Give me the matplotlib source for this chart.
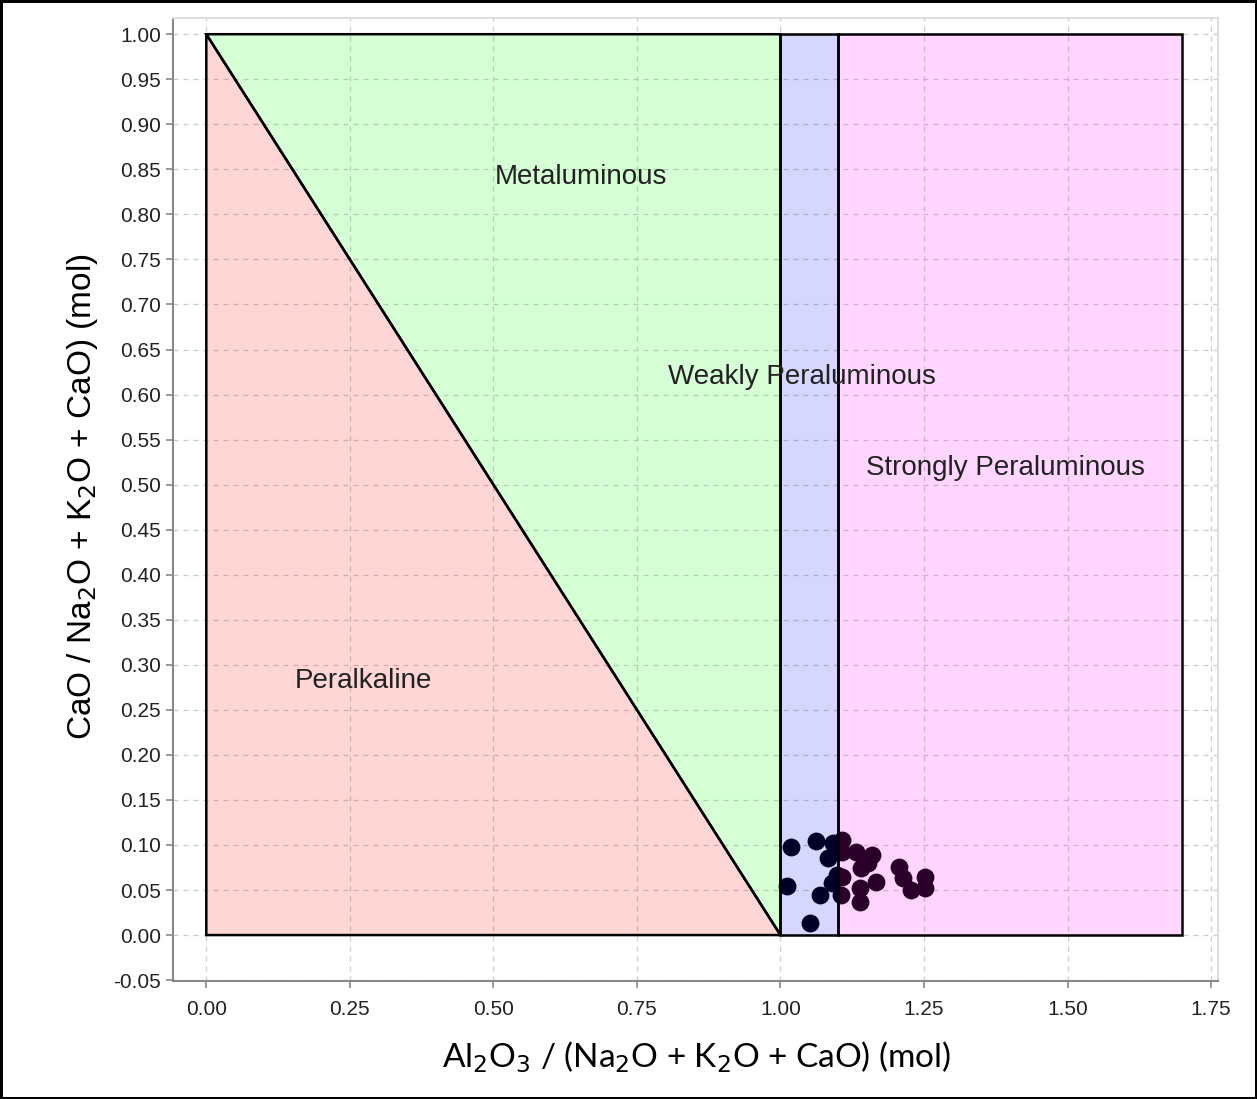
import matplotlib.pyplot as plt
from matplotlib.patches import Polygon

# dados das amostras (A/CNK, CaO/CNK)
x_amostras = [1.019, 1.061, 1.012, 1.068, 1.051, 1.091, 1.082, 1.089, 1.099, 1.106,
              1.108, 1.108, 1.132, 1.160, 1.141, 1.152, 1.108, 1.138, 1.138, 1.167,
              1.207, 1.213, 1.228, 1.251, 1.251]
y_amostras = [0.098, 0.104, 0.055, 0.044, 0.013, 0.102, 0.085, 0.058, 0.067, 0.044,
              0.092, 0.105, 0.092, 0.089, 0.074, 0.080, 0.064, 0.052, 0.037, 0.059,
              0.075, 0.063, 0.050, 0.064, 0.052]

# campos do diagrama
regioes = ['Peralkaline', 'Metaluminous', 'Weakly Peraluminous', 'Strongly Peraluminous']
cores = ['red', 'lime', 'blue', 'magenta']
poligonos = [
    [(0, 0), (0, 1), (1, 0)],
    [(0, 1), (1, 1), (1, 0)],
    [(1, 0), (1, 1), (1.1, 1), (1.1, 0)],
    [(1.1, 0), (1.1, 1), (1.7, 1), (1.7, 0)],
]
pos_textos = [(0.274, 0.282), (0.653, 0.841), (1.038, 0.619), (1.392, 0.518)]

xticks = [0.00, 0.25, 0.50, 0.75, 1.00, 1.25, 1.50, 1.75]
yticks = [i * 0.05 - 0.05 for i in range(22)]

fig = plt.figure(figsize=(12.57, 10.99), dpi=100)
fig.patch.set_edgecolor('black')
fig.patch.set_linewidth(2.5)
ax = fig.add_axes([173 / 1257, 1 - 981 / 1099, (1218 - 173) / 1257, (981 - 18) / 1099])

# pontos por baixo, preenchimentos translucidos por cima
ax.scatter(x_amostras, y_amostras, s=165, color='black', zorder=2, linewidths=0)

for pts, cor in zip(poligonos, cores):
    ax.add_patch(Polygon(pts, closed=True, facecolor=cor, alpha=0.16, edgecolor='none', zorder=3))
    ax.add_patch(Polygon(pts, closed=True, facecolor='none', edgecolor='black', lw=1.8, zorder=4))

for nome, (tx, ty) in zip(regioes, pos_textos):
    ax.text(tx, ty, nome, ha='center', va='center', fontsize=20, color='#222222',
            family='Liberation Sans', zorder=5)

ax.set_xlim(-0.058, 1.762)
ax.set_ylim(-0.051, 1.018)
ax.set_xticks(xticks)
ax.set_yticks(yticks)
ax.set_xticklabels([f'{v:.2f}' for v in xticks])
ax.set_yticklabels([f'{v:.2f}' for v in yticks])
ax.tick_params(labelsize=15, colors='#888888', labelcolor='#222222', length=5, width=1.2)
ax.tick_params(axis='x', pad=9)
for lab in ax.get_xticklabels() + ax.get_yticklabels():
    lab.set_family('Liberation Sans')

ax.grid(True, linestyle=(0, (4, 4)), color='#cccccc', linewidth=0.9, zorder=0)
ax.set_axisbelow(True)
for lado in ['left', 'bottom']:
    ax.spines[lado].set_color('#888888')
    ax.spines[lado].set_linewidth(1.5)
for lado in ['top', 'right']:
    ax.spines[lado].set_color('#dddddd')
    ax.spines[lado].set_linewidth(1.5)

fig.text(697 / 1257, 1 - 1057 / 1099, r'Al$_2$O$_3$ / (Na$_2$O + K$_2$O + CaO) (mol)',
         ha='center', va='center', fontsize=24, family='Lato')
fig.text(83 / 1257, 1 - 497 / 1099, r'CaO / Na$_2$O + K$_2$O + CaO) (mol)',
         ha='center', va='center', rotation=90, fontsize=24, family='Liberation Sans')

plt.savefig('out.png', dpi=100, edgecolor=fig.get_edgecolor())
